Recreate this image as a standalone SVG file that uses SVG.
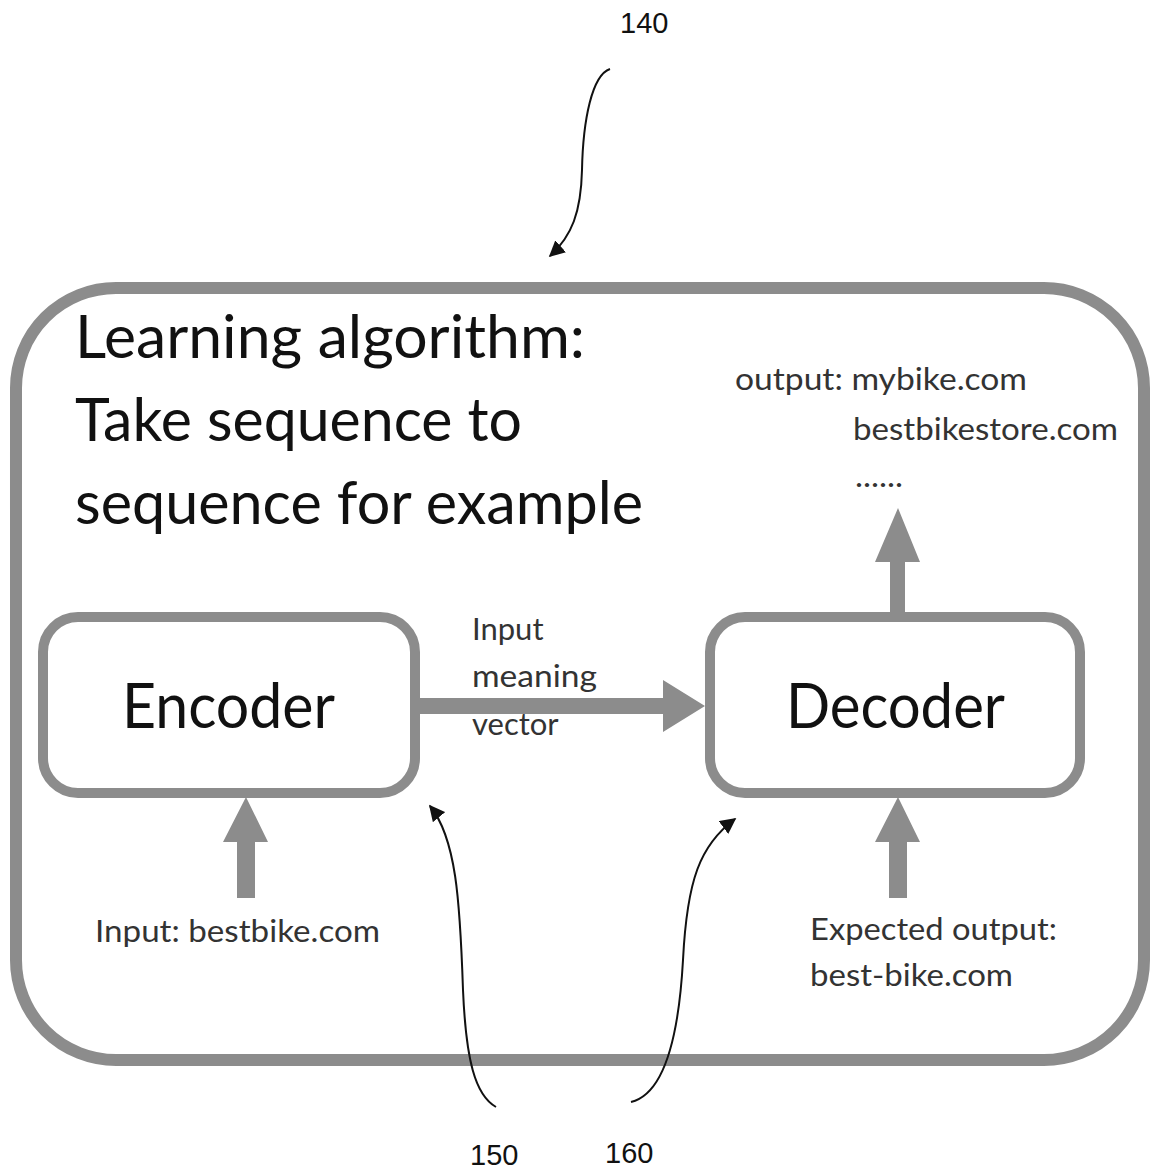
<svg xmlns="http://www.w3.org/2000/svg" width="1160" height="1173" viewBox="0 0 1160 1173">
<style>
.frame{fill:none;stroke:#8c8c8c;stroke-width:12}
.box{fill:none;stroke:#8c8c8c;stroke-width:10}
.gray{fill:#8c8c8c}
.big{font-family:Lato,"Open Sans",sans-serif;font-size:60px;fill:#111}
.node{font-family:Lato,"Open Sans",sans-serif;font-size:62px;fill:#111}
.small{font-family:Lato,"Open Sans",sans-serif;font-size:31px;fill:#333}
.num{font-family:"Liberation Sans",Arial,sans-serif;font-size:29px;fill:#111}
.call{fill:none;stroke:#111;stroke-width:2}
</style>
<defs>
<marker id="ah" viewBox="0 0 10 10" refX="9" refY="5" markerWidth="16" markerHeight="16" markerUnits="userSpaceOnUse" orient="auto">
<path d="M0,0 L10,5 L0,10 z" fill="#111"/>
</marker>
</defs>
<g id="frame">
<rect class="frame" x="16" y="288" width="1128" height="772" rx="100" ry="100"/>
<text class="big" x="75" y="358" textLength="510" lengthAdjust="spacingAndGlyphs">Learning algorithm:</text>
<text class="big" x="75" y="441" textLength="447" lengthAdjust="spacingAndGlyphs">Take sequence to</text>
<text class="big" x="75" y="524" textLength="568" lengthAdjust="spacingAndGlyphs">sequence for example</text>
</g>
<g id="encoder">
<rect class="box" x="43" y="617" width="372" height="176" rx="35" ry="35"/>
<text class="node" x="122" y="728" textLength="213" lengthAdjust="spacingAndGlyphs">Encoder</text>
</g>
<g id="decoder">
<rect class="box" x="710" y="617" width="370" height="176" rx="35" ry="35"/>
<text class="node" x="786" y="728" textLength="219" lengthAdjust="spacingAndGlyphs">Decoder</text>
</g>
<g id="input">
<text class="small" x="95" y="942" textLength="285" lengthAdjust="spacingAndGlyphs">Input: bestbike.com</text>
</g>
<g id="expected">
<text class="small" x="810" y="940" textLength="247" lengthAdjust="spacingAndGlyphs">Expected output:</text>
<text class="small" x="810" y="986" textLength="203" lengthAdjust="spacingAndGlyphs">best-bike.com</text>
</g>
<g id="output">
<text class="small" x="735" y="390" textLength="292" lengthAdjust="spacingAndGlyphs">output: mybike.com</text>
<text class="small" x="853" y="440" textLength="265" lengthAdjust="spacingAndGlyphs">bestbikestore.com</text>
<text class="small" x="855" y="487" textLength="48" lengthAdjust="spacingAndGlyphs">......</text>
</g>
<g id="labels">
<text class="num" x="620" y="33">140</text>
<text class="num" x="470" y="1165">150</text>
<text class="num" x="605" y="1163">160</text>
</g>
<g id="connectors">
<path class="gray" d="M415,698 H663 V680 L705,706 L663,732 V714 H415 z"/>
<path class="gray" d="M237,898 V842 H223 L246,797 L268,842 H255 V898 z"/>
<path class="gray" d="M889,898 V842 H875 L898,797 L920,842 H907 V898 z"/>
<path class="gray" d="M890,612 V562 H875 L898,508 L920,562 H905 V612 z"/>
<text class="small" x="472" y="640" fill="#444">Input</text>
<text class="small" x="472" y="687" textLength="125" lengthAdjust="spacingAndGlyphs">meaning</text>
<text class="small" x="472" y="735">vector</text>
<path class="call" marker-end="url(#ah)" d="M610,69 C592,75 583,120 582,170 C581,212 572,236 550,256"/>
<path class="call" marker-end="url(#ah)" d="M496,1107 C475,1095 466,1060 463,990 C460,900 456,838 430,806"/>
<path class="call" marker-end="url(#ah)" d="M631,1102 C660,1095 678,1050 683,960 C687,880 700,845 735,819"/>
</g>
</svg>
